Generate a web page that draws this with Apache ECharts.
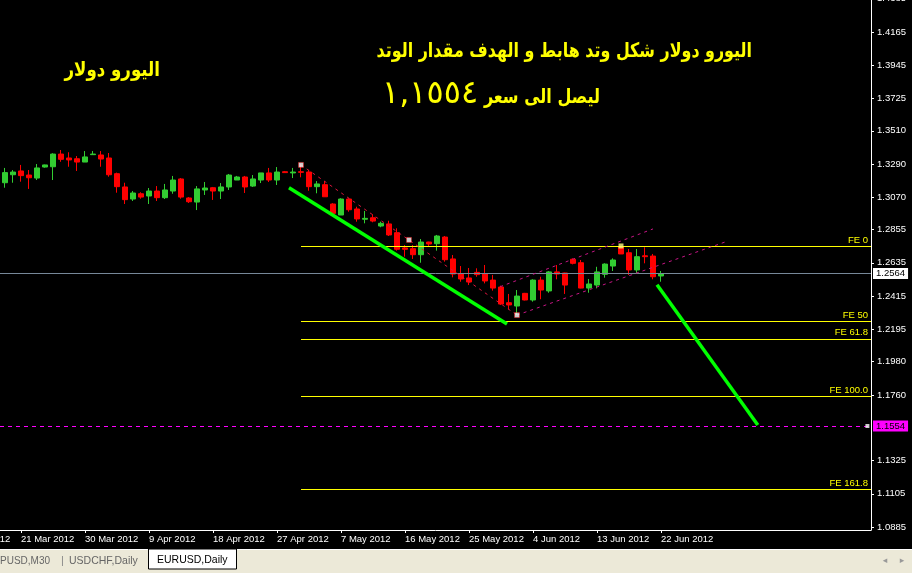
<!DOCTYPE html>
<html><head><meta charset="utf-8">
<script src="https://cdn.jsdelivr.net/npm/echarts@6/dist/echarts.min.js"></script>
<style>html,body{margin:0;padding:0;background:#000;overflow:hidden}#c{width:912px;height:573px}</style>
</head><body><div id="c"></div>
<script>
// ---- data (EURUSD, Daily) ----
const dates = ['2012-03-19','2012-03-20','2012-03-21','2012-03-22','2012-03-23','2012-03-25','2012-03-26','2012-03-27','2012-03-28','2012-03-29','2012-03-30','2012-04-01','2012-04-02','2012-04-03','2012-04-04','2012-04-05','2012-04-06','2012-04-08','2012-04-09','2012-04-10','2012-04-11','2012-04-12','2012-04-13','2012-04-15','2012-04-16','2012-04-17','2012-04-18','2012-04-19','2012-04-20','2012-04-22','2012-04-23','2012-04-24','2012-04-25','2012-04-26','2012-04-27','2012-04-29','2012-04-30','2012-05-01','2012-05-02','2012-05-03','2012-05-04','2012-05-06','2012-05-07','2012-05-08','2012-05-09','2012-05-10','2012-05-11','2012-05-13','2012-05-14','2012-05-15','2012-05-16','2012-05-17','2012-05-18','2012-05-20','2012-05-21','2012-05-22','2012-05-23','2012-05-24','2012-05-25','2012-05-27','2012-05-28','2012-05-29','2012-05-30','2012-05-31','2012-06-01','2012-06-03','2012-06-04','2012-06-05','2012-06-06','2012-06-07','2012-06-08','2012-06-10','2012-06-11','2012-06-12','2012-06-13','2012-06-14','2012-06-15','2012-06-17','2012-06-18','2012-06-19','2012-06-20','2012-06-21','2012-06-22'];
const opens = [1.3166,1.3219,1.3244,1.3217,1.3197,1.3270,1.3272,1.3356,1.3330,1.3325,1.3303,1.3352,1.3350,1.3330,1.3226,1.3138,1.3058,1.3093,1.3078,1.3111,1.3067,1.3111,1.3191,1.3065,1.3038,1.3118,1.3133,1.3111,1.3138,1.3184,1.3204,1.3144,1.3184,1.3231,1.3184,1.3239,1.3231,1.3239,1.3237,1.3140,1.3153,1.3025,1.2952,1.3058,1.2992,1.2924,1.2934,1.2879,1.2893,1.2835,1.2734,1.2729,1.2689,1.2773,1.2762,1.2806,1.2661,1.2561,1.2535,1.2572,1.2561,1.2521,1.2475,1.2371,1.2349,1.2433,1.2389,1.2521,1.2449,1.2575,1.2568,1.2659,1.2636,1.2468,1.2488,1.2559,1.2614,1.2742,1.2702,1.2588,1.2682,1.2680,1.2548];
const closes = [1.3233,1.3237,1.3213,1.3199,1.3264,1.3284,1.3356,1.3321,1.3317,1.3303,1.3337,1.3356,1.3323,1.3219,1.3140,1.3054,1.3098,1.3071,1.3111,1.3067,1.3118,1.3184,1.3071,1.3040,1.3125,1.3131,1.3111,1.3138,1.3217,1.3204,1.3138,1.3191,1.3231,1.3184,1.3237,1.3233,1.3237,1.3235,1.3140,1.3158,1.3073,1.2963,1.3058,1.2987,1.2926,1.2930,1.2912,1.2897,1.2820,1.2725,1.2725,1.2689,1.2773,1.2760,1.2813,1.2656,1.2561,1.2528,1.2508,1.2557,1.2515,1.2468,1.2362,1.2356,1.2415,1.2389,1.2521,1.2455,1.2575,1.2561,1.2488,1.2632,1.2468,1.2495,1.2575,1.2627,1.2654,1.2694,1.2588,1.2676,1.2676,1.2543,1.2564];
const lows = [1.3133,1.3166,1.3173,1.3125,1.3184,1.3266,1.3184,1.3305,1.3272,1.3244,1.3303,1.3350,1.3272,1.3206,1.3100,1.3025,1.3045,1.3060,1.3025,1.3045,1.3058,1.3093,1.3060,1.3032,1.2985,1.3085,1.3052,1.3058,1.3118,1.3184,1.3098,1.3138,1.3164,1.3171,1.3151,1.3231,1.3197,1.3202,1.3113,1.3096,1.3073,1.2963,1.2952,1.2974,1.2908,1.2897,1.2904,1.2871,1.2813,1.2716,1.2676,1.2661,1.2636,1.2747,1.2716,1.2643,1.2539,1.2510,1.2488,1.2543,1.2499,1.2451,1.2356,1.2327,1.2289,1.2386,1.2378,1.2394,1.2437,1.2526,1.2429,1.2625,1.2466,1.2437,1.2466,1.2537,1.2581,1.2694,1.2555,1.2566,1.2632,1.2526,1.2510];
const highs = [1.3264,1.3250,1.3284,1.3250,1.3290,1.3286,1.3361,1.3383,1.3368,1.3343,1.3376,1.3376,1.3376,1.3363,1.3233,1.3166,1.3111,1.3103,1.3131,1.3144,1.3158,1.3211,1.3197,1.3071,1.3144,1.3171,1.3138,1.3164,1.3224,1.3211,1.3211,1.3217,1.3231,1.3264,1.3270,1.3244,1.3264,1.3288,1.3250,1.3177,1.3177,1.3030,1.3063,1.3063,1.3007,1.2979,1.2957,1.2908,1.2914,1.2864,1.2753,1.2753,1.2793,1.2775,1.2820,1.2813,1.2687,1.2614,1.2601,1.2599,1.2621,1.2555,1.2484,1.2429,1.2455,1.2436,1.2526,1.2543,1.2581,1.2621,1.2570,1.2665,1.2654,1.2528,1.2609,1.2632,1.2665,1.2748,1.2727,1.2727,1.2738,1.2694,1.2581];

const yTickValues = [1.4165,1.3945,1.3725,1.3510,1.3290,1.3070,1.2855,1.2635,1.2415,1.2195,1.1980,1.1760,1.1325,1.1105,1.0885];
const topCutTick = 1.4385;
const earlierDateLabel = {index: -6, text: '12 Mar 2012'};

const feNames = ['FE 0','FE 50','FE 61.8','FE 100.0','FE 161.8'];
const feLevels = [1.2747,1.2249,1.2132,1.1752,1.1137];
const feStartBar = 37;
const currentPrice = 1.2564;
const targetPrice = 1.1554;
const trendDown = [[35.5,1.3133],[62.75,1.2230]];
const projection = [[81.5,1.2490],[94.1,1.1561]];
const zigzagAB = [[37,1.3284],[64,1.2289]];
const channelLow = [[64,1.2289],[90,1.2773]];
const channelHigh = [[61.9,1.2477],[81,1.2860]];
const anchorsWhite = [[37,1.3284],[50.5,1.2787],[64,1.2289]];
const anchorsYellow = [[77,1.2747]];

const titleLine1 = 'اليورو دولار شكل وتد هابط و الهدف مقدار الوتد';
const titleLine2 = 'ليصل الى سعر';
const titleNumber = '١,١٥٥٤';
const sideTitle = 'اليورو دولار';

// ---- chart ----
const MON = ['Jan','Feb','Mar','Apr','May','Jun','Jul','Aug','Sep','Oct','Nov','Dec'];
function fmtDate(s){const p=s.split('-');return (+p[2])+' '+MON[+p[1]-1]+' '+p[0];}
const labelIdx = dates.map((d,i)=>i).filter(i=>(i-2)%8===0);
const FONT = "'Liberation Sans', Arial, sans-serif";
const AR = "'DejaVu Sans', sans-serif";
const XMIN=-0.625, XMAX=108.25;

const candleData = dates.map((d,i)=>[i,opens[i],closes[i],lows[i],highs[i]]);

const chart = echarts.init(document.getElementById('c'), null, {renderer:'canvas'});
const lineS = (data,color,width,dash,z)=>({type:'line',data,showSymbol:false,symbol:'none',silent:true,z,
  lineStyle:{color,width,type:dash||'solid'}});
const hLine = (v,color,dash,label)=>[
  {coord:[XMIN,v],lineStyle:{color,width:1,type:dash},label},
  {coord:[XMAX,v]}];

const option = {
  backgroundColor:'#000',
  animation:false,
  grid:{left:0,right:41,top:0,bottom:43,containLabel:false},
  xAxis:{type:'value',min:XMIN,max:XMAX,
    axisLine:{show:true,onZero:false,lineStyle:{color:'#fff',width:1}},
    axisTick:{show:true,customValues:labelIdx,length:3,lineStyle:{color:'#fff'}},
    axisLabel:{customValues:labelIdx,formatter:v=>fmtDate(dates[Math.round(v)]),color:'#fff',fontSize:9.5,fontFamily:FONT,align:'left',margin:4},
    splitLine:{show:false}},
  yAxis:{type:'value',position:'right',min:1.08648,max:1.43769,
    axisLine:{show:true,onZero:false,lineStyle:{color:'#fff',width:1}},
    axisTick:{show:true,customValues:yTickValues,length:3,lineStyle:{color:'#fff'}},
    axisLabel:{customValues:yTickValues,formatter:v=>v.toFixed(4),color:'#fff',fontSize:9.5,fontFamily:FONT,margin:6},
    splitLine:{show:false}},
  series:[
    {type:'line',data:[],silent:true,z:3,
      markLine:{silent:true,symbol:'none',animation:false,
        data:[
          hLine(currentPrice,'#778899','solid',{show:true,position:'end',formatter:currentPrice.toFixed(4),color:'#000',backgroundColor:'#fff',padding:[1,3,0,3],fontSize:9.5,fontFamily:FONT,distance:2}),
          hLine(targetPrice,'#FF00FF',[4,4],{show:true,position:'end',formatter:targetPrice.toFixed(4),color:'#000',backgroundColor:'#FF00FF',padding:[1,3,0,3],fontSize:9.5,fontFamily:FONT,distance:2})
        ]}},
    {type:'candlestick',data:candleData,barWidth:5,z:4,silent:true,
      itemStyle:{color:'#32CD32',color0:'#FF0000',borderColor:'#32CD32',borderColor0:'#FF0000',borderWidth:1}},
    {type:'line',data:[],silent:true,z:5,
      markLine:{silent:true,symbol:'none',animation:false,
        lineStyle:{color:'#FFFF00',width:1,type:'solid'},
        data:feLevels.map((v,k)=>[
          {coord:[feStartBar,v],label:{show:true,position:'insideEndTop',formatter:feNames[k],color:'#FFFF00',fontSize:9.5,fontFamily:FONT,distance:[3,1]}},
          {coord:[XMAX,v]}])}},
    lineS(zigzagAB,'#DC143C',1,[3,4],6),
    lineS(channelLow,'#C71585',1,[3,4],6),
    lineS(channelHigh,'#C71585',1,[3,4],6),
    lineS(trendDown,'#00FF00',3.5,'solid',7),
    lineS(projection,'#00FF00',3.5,'solid',7),
    {type:'scatter',data:anchorsWhite,symbol:'rect',symbolSize:5,silent:true,z:8,itemStyle:{color:'#fff',borderColor:'#f00',borderWidth:0.5}},
    {type:'scatter',data:anchorsYellow,symbol:'rect',symbolSize:5,silent:true,z:8,itemStyle:{color:'#FFFF80'}},
    {type:'scatter',data:[[107.8,targetPrice]],symbol:'rect',symbolSize:4,silent:true,z:8,itemStyle:{color:'#fff'}}
  ]
};
chart.setOption(option);

const px12 = chart.convertToPixel({xAxisIndex:0}, earlierDateLabel.index);
const pyTop = chart.convertToPixel({yAxisIndex:0}, topCutTick);
const T = (x,y,sx,text,font,align)=>({type:'text',x,y,scaleX:sx,scaleY:1,z:20,
  style:{x:0,y:0,text,fill:'#FFFF00',font,align,verticalAlign:'middle'}});
chart.setOption({graphic:[
  T(752,52,0.795,titleLine1,'bold 20px '+AR,'right'),
  T(600,98,0.8,titleLine2,'bold 20px '+AR,'right'),
  T(382,95,1.0,titleNumber,'32px '+AR,'left'),
  T(160,71,0.83,sideTitle,'bold 20px '+AR,'right'),
  {type:'text',x:px12,y:534,z:20,style:{text:earlierDateLabel.text,fill:'#fff',font:'9.5px '+FONT,align:'left',verticalAlign:'top'}},
  {type:'text',x:877,y:pyTop,z:20,style:{text:topCutTick.toFixed(4),fill:'#fff',font:'9.5px '+FONT,align:'left',verticalAlign:'middle'}},
  {type:'rect',z:20,shape:{x:0,y:549,width:912,height:24},style:{fill:'#ECE9D8'}},
  {type:'line',z:21,shape:{x1:0,y1:549.5,x2:912,y2:549.5},style:{stroke:'#fff',lineWidth:1}},
  {type:'rect',z:21,shape:{x:148.5,y:549,width:88,height:20},style:{fill:'#fff',stroke:'#000',lineWidth:1}},
  {type:'text',z:22,x:0,y:561,style:{text:'PUSD,M30',fill:'#666',font:'10px '+FONT,verticalAlign:'middle'}},
  {type:'text',z:22,x:61,y:561,style:{text:'|',fill:'#888',font:'11px '+FONT,verticalAlign:'middle'}},
  {type:'text',z:22,x:69,y:561,style:{text:'USDCHF,Daily',fill:'#666',font:'10.5px '+FONT,verticalAlign:'middle'}},
  {type:'text',z:22,x:157,y:560,style:{text:'EURUSD,Daily',fill:'#000',font:'10.5px '+FONT,verticalAlign:'middle'}},
  {type:'text',z:22,x:885,y:561,style:{text:'◂',fill:'#999',font:'9px '+AR,align:'center',verticalAlign:'middle'}},
  {type:'text',z:22,x:902,y:561,style:{text:'▸',fill:'#999',font:'9px '+AR,align:'center',verticalAlign:'middle'}}
]});
</script></body></html>
